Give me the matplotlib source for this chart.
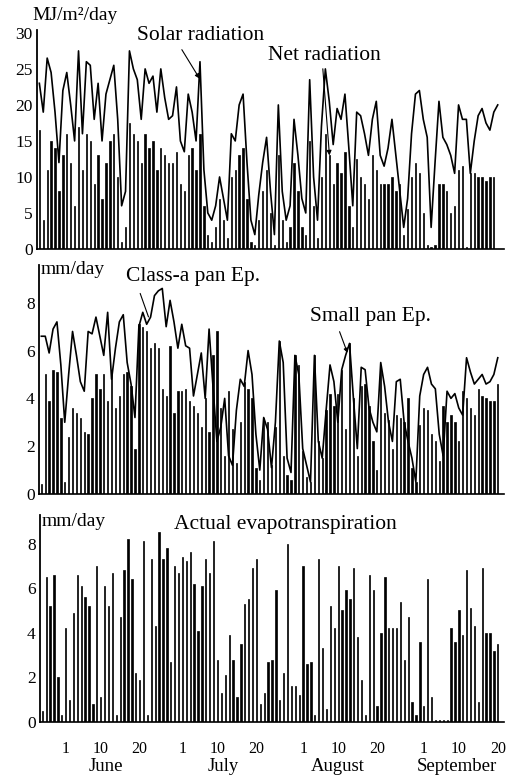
import numpy as np
import matplotlib
matplotlib.use("Agg")
import matplotlib.pyplot as plt

plt.rcParams['font.family'] = ['Liberation Serif', 'DejaVu Serif']

# day 0 = June 1, series run from May 26 (day -6) to Sep 20 (day 111)
first_day = -6

# top panel: MJ/m2/day
solar_rad = [
    23, 19, 26.5, 24.5, 19, 12, 22, 24.5, 20, 15,
    27.5, 16, 26, 25.5, 18, 23, 15, 21.5, 23.5, 25.5,
    18, 6, 8, 27.5, 25, 23.5, 18, 25, 23, 24,
    19, 25, 21, 18, 18.5, 22.5, 15, 13.5, 21.5, 19,
    15, 26, 11, 5, 4, 6, 10, 7, 4, 16,
    15, 20, 21.5, 12, 4, 2, 7.5, 12, 15.5, 8,
    2, 20, 8, 4, 6, 18, 13, 7, 5, 23.5,
    10, 4, 17, 25, 20.5, 14.5, 19.5, 18, 21.5, 14,
    6, 19, 18.5, 16, 13, 18, 20.5, 13, 11.5, 14,
    18, 13, 8, 3, 7, 16, 21.5, 22, 18, 15.5,
    3, 12, 20.5, 15.5, 14.5, 13, 10.5, 20, 18, 18,
    10.5, 15, 18.5, 19.5, 17.5, 16.5, 19, 20,
]
net_rad = [
    16.5, 4, 11, 15, 14, 8, 13, 16, 12, 6,
    17, 11, 16, 15, 9, 13, 7, 12, 15, 16,
    10, 1, 3, 17.5, 16, 15, 12, 16, 14, 15,
    11, 14, 13, 12, 12, 13.5, 9, 8, 13, 14,
    11, 16, 6, 2, 1, 3, 7, 4, 1.5, 10,
    11, 13, 14, 7, 1, 0.5, 4, 8, 11, 5,
    0.5, 13, 4, 1, 3, 12, 8, 3, 2, 15,
    6, 1.5, 10, 16, 13, 9, 12, 10.5, 13.5, 6,
    3, 12.5, 10, 9, 7, 13, 11, 9, 9, 9,
    10, 8, 9, 2, 5.5, 10, 12, 10.5, 5, 0.5,
    0.3, 0.5, 9, 9, 8, 5, 6, 11, 11.5, 0.3,
    10.5, 10.5, 10, 10, 9.5, 10, 10, 0,
]

# middle panel: mm/day
class_a_pan = [
    6.6, 6.6, 5.9, 6.9, 7.2, 5.4, 3.0, 5.0, 6.8, 5.8,
    4.7, 4.3, 6.8, 6.7, 7.4, 6.6, 5.8, 7.6, 4.8, 6.1,
    7.2, 7.5, 5.5, 4.6, 3.2, 7.0, 7.6, 7.1, 7.4, 8.3,
    8.5, 8.6, 7.0, 8.1, 7.2, 6.1, 7.1, 6.2, 6.1, 4.1,
    5.0, 5.9, 4.0, 6.9, 4.5, 2.2, 2.8, 4.0, 1.6, 1.2,
    3.5, 4.8, 4.5, 6.0, 5.0, 2.5, 1.0, 3.2, 2.7, 1.1,
    3.0, 6.4, 5.5, 1.5, 0.9, 5.8, 5.0, 1.9, 1.2, 0.5,
    5.8, 2.2, 1.5, 3.5, 5.4, 4.7, 3.0, 5.2, 5.8, 6.3,
    4.0, 1.9, 5.3, 5.2, 3.6, 3.0, 2.6, 5.5, 4.5, 3.0,
    2.2, 4.7, 4.8, 3.0, 2.2, 1.5, 0.5, 4.1, 5.0, 5.3,
    4.6, 4.4, 2.5, 1.6, 4.3, 4.0, 4.2, 3.6, 3.3, 5.7,
    5.1, 4.6, 4.8, 5.0, 4.6, 4.7, 5.0, 5.7,
]
small_pan = [
    0.4, 5.0, 3.9, 5.2, 5.1, 3.2, 0.5, 2.4, 3.6, 3.4,
    3.2, 2.6, 2.5, 4.0, 5.0, 4.4, 5.0, 3.9, 5.0, 3.6,
    4.1, 5.0, 5.1, 4.5, 1.9, 7.1, 7.0, 6.8, 6.1, 6.3,
    6.1, 4.4, 4.1, 6.2, 3.4, 4.3, 4.3, 4.4, 3.9, 3.7,
    3.4, 2.8, 4.0, 2.6, 5.8, 6.8, 3.6, 1.6, 4.3, 2.7,
    1.3, 3.0, 4.7, 4.4, 4.0, 1.1, 0.6, 3.2, 3.0, 1.2,
    2.8, 6.4, 1.6, 0.8, 0.6, 5.8, 5.4, 1.8, 0.7, 0.5,
    5.8, 2.2, 1.5, 3.5, 4.2, 3.7, 4.2, 5.2, 2.7, 6.3,
    4.0, 1.6, 4.5, 4.6, 3.7, 2.2, 1.0, 5.4, 3.4, 3.1,
    1.9, 3.3, 3.2, 3.0, 4.0, 1.1, 0.5, 2.9, 3.6, 3.5,
    2.5, 2.2, 1.4, 3.7, 3.0, 3.3, 3.0, 2.2, 4.3, 4.0,
    3.6, 3.3, 4.4, 4.1, 4.0, 3.9, 3.9, 4.6,
]

# bottom panel: mm/day
actual_et = [
    0.5, 6.5, 5.2, 6.6, 2.0, 0.3, 4.2, 1.0, 4.9, 6.6,
    6.1, 5.6, 5.2, 0.8, 7.0, 1.1, 6.1, 5.2, 6.7, 0.3,
    4.7, 6.8, 8.2, 6.4, 2.2, 1.9, 8.1, 0.3, 7.3, 4.3,
    8.5, 7.3, 7.8, 2.7, 7.0, 6.7, 7.4, 7.2, 7.6, 6.2,
    4.1, 6.1, 7.3, 6.7, 8.1, 2.8, 1.3, 2.1, 3.9, 2.8,
    1.1, 3.5, 5.3, 5.5, 6.9, 7.3, 0.8, 1.3, 2.7, 2.8,
    5.9, 1.0, 2.2, 8.0, 1.6, 1.6, 1.2, 7.0, 2.6, 2.7,
    0.3, 7.3, 3.3, 0.6, 5.2, 4.2, 7.0, 5.0, 5.9, 5.5,
    6.9, 3.8, 1.9, 0.3, 6.6, 5.9, 0.7, 4.0, 6.5, 4.2,
    4.2, 4.2, 5.4, 2.8, 4.7, 0.9, 0.3, 3.6, 0.7, 6.4,
    1.1, 0.1, 0.1, 0.1, 0.1, 4.2, 3.6, 5.0, 3.9, 6.8,
    5.1, 4.3, 0.9, 6.9, 4.0, 4.0, 3.2, 3.5,
]

tick_days = [0, 9, 19, 30, 39, 49, 61, 70, 80, 92, 101, 111]
tick_labels = ['1', '10', '20'] * 4
months = ['June', 'July', 'August', 'September']
month_centers = [10.2, 40.5, 70, 100.5]

W, H = 520, 780
fig = plt.figure(figsize=(W / 100, H / 100), dpi=100)


def px_axes(x0, y0, x1, y1):
    return fig.add_axes([x0 / W, 1 - y1 / H, (x1 - x0) / W, (y1 - y0) / H])


def style(ax, ymax, yticks):
    ax.set_xlim(-6.6, 112.6)
    ax.set_ylim(0, ymax)
    ax.set_yticks(yticks)
    for s in ['top', 'right']:
        ax.spines[s].set_visible(False)
    ax.spines['left'].set_linewidth(1.3)
    ax.spines['bottom'].set_linewidth(1.2)
    ax.tick_params(axis='y', length=0, pad=3, labelsize=12.5)
    ax.tick_params(axis='x', length=0)
    ax.set_xticks([])


def days_for(vals):
    return np.arange(first_day, first_day + len(vals))


bw = 0.34
bar_kw = dict(width=bw, color='k', edgecolor='k', linewidth=0.5)

# top panel
ax1 = px_axes(37, 30, 504, 249)
ax1.bar(days_for(net_rad), net_rad, **bar_kw)
ax1.plot(days_for(solar_rad), solar_rad, color='k', lw=1.2)
style(ax1, 30.4, [0, 5, 10, 15, 20, 25, 30])
fig.text(32 / W, 1 - 15 / H, 'MJ/m\u00b2/day', fontsize=14, ha='left', va='center')
fig.text(137 / W, 1 - 36 / H, 'Solar radiation', fontsize=15.5, ha='left', va='center')
fig.text(268 / W, 1 - 56 / H, 'Net radiation', fontsize=15.5, ha='left', va='center')
ax1.annotate('', xy=(35.3, 23.3), xytext=(30.0, 28.0),
             arrowprops=dict(arrowstyle='-|>', lw=0.8, color='k', mutation_scale=7))
ax1.annotate('', xy=(68.1, 12.6), xytext=(66.3, 25.4),
             arrowprops=dict(arrowstyle='-|>', lw=0.8, color='k', mutation_scale=7))

# middle panel
ax2 = px_axes(39, 265, 504, 494)
ax2.bar(days_for(small_pan), small_pan, **bar_kw)
ax2.plot(days_for(class_a_pan), class_a_pan, color='k', lw=1.2)
style(ax2, 9.58, [0, 2, 4, 6, 8])
fig.text(41 / W, 1 - 269 / H, 'mm/day', fontsize=14, ha='left', va='center')
fig.text(126 / W, 1 - 276 / H, 'Class-a pan Ep.', fontsize=15.5, ha='left', va='center')
fig.text(310 / W, 1 - 317 / H, 'Small pan Ep.', fontsize=15.5, ha='left', va='center')
ax2.annotate('', xy=(21.7, 7.3), xytext=(19.1, 8.5),
             arrowprops=dict(arrowstyle='-', lw=0.8, color='k'))
ax2.annotate('', xy=(72.7, 5.8), xytext=(70.2, 6.9),
             arrowprops=dict(arrowstyle='-|>', lw=0.8, color='k', mutation_scale=6))

# bottom panel
ax3 = px_axes(40, 515, 504, 722)
ax3.bar(days_for(actual_et), actual_et, **bar_kw)
style(ax3, 9.28, [0, 2, 4, 6, 8])
fig.text(42 / W, 1 - 522 / H, 'mm/day', fontsize=14, ha='left', va='center')
fig.text(174 / W, 1 - 524 / H, 'Actual evapotranspiration', fontsize=15.5, ha='left', va='center')

ax3.set_xticks(tick_days)
ax3.set_xticklabels(tick_labels, fontsize=11.5)
ax3.tick_params(axis='x', length=0, pad=14)
for name, c in zip(months, month_centers):
    ax3.text(c, -0.215, name, transform=ax3.get_xaxis_transform(),
             ha='center', va='center', fontsize=13.5)

fig.savefig('out.png', dpi=100)
